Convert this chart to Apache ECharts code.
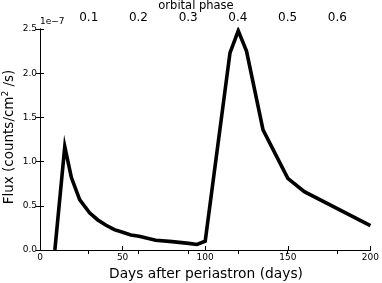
<!DOCTYPE html>
<html>
<head>
<meta charset="utf-8">
<script src="https://cdn.jsdelivr.net/npm/echarts@6/dist/echarts.min.js"></script>
<style>html,body{margin:0;padding:0;background:#fff}#c{width:382px;height:283px}</style>
</head>
<body>
<div id="c"></div>
<script>
const days = [9, 15, 19, 24, 30, 35, 40, 45, 50, 55, 60, 70, 80, 90, 95, 100, 115, 120, 125, 135, 150, 160, 200];
const flux = [0, 1.17, 0.82, 0.57, 0.42, 0.34, 0.28, 0.23, 0.20, 0.17, 0.155, 0.11, 0.095, 0.075, 0.062, 0.10, 2.23, 2.48, 2.25, 1.36, 0.81, 0.66, 0.275];
const xTicks = [0, 50, 100, 150, 200];
const yTicks = [0, 0.5, 1.0, 1.5, 2.0, 2.5];
const phaseLabels = [0.1, 0.2, 0.3, 0.4, 0.5, 0.6];
const period = 301, phaseOffset = 0.6;
const phaseDays = phaseLabels.map(p => period * p - phaseOffset);

const F = 'DejaVu Sans';
const chart = echarts.init(document.getElementById('c'), null, {renderer: 'canvas'});
const axLine = {show: true, lineStyle: {color: '#000', width: 1}};
chart.setOption({
  animation: false,
  grid: {left: 40, right: 10, top: 29, bottom: 33},
  xAxis: [
    {type: 'value', position: 'bottom', min: 0, max: 200, interval: 50,
     axisLine: axLine, splitLine: {show: false},
     axisTick: {inside: true, length: 4, lineStyle: {color: '#000'}},
     axisLabel: {fontFamily: F, fontSize: 9, color: '#000', margin: 3}},
    {type: 'value', position: 'top', min: 0, max: 200,
     axisLine: axLine, splitLine: {show: false},
     axisTick: {inside: true, length: 4, customValues: phaseDays, lineStyle: {color: '#000'}},
     axisLabel: {fontFamily: F, fontSize: 12, color: '#000', margin: 5, customValues: phaseDays,
       formatter: v => ((v + phaseOffset) / period).toFixed(1)}}
  ],
  yAxis: [
    {type: 'value', position: 'left', min: 0, max: 2.5, interval: 0.5,
     axisLine: axLine, splitLine: {show: false},
     axisTick: {inside: true, length: 4, lineStyle: {color: '#000'}},
     axisLabel: {fontFamily: F, fontSize: 9, color: '#000', margin: 3, formatter: v => v.toFixed(1)}},
    {type: 'value', position: 'right', min: 0, max: 2.5, interval: 0.5,
     axisLine: axLine, splitLine: {show: false},
     axisTick: {inside: true, length: 4, lineStyle: {color: '#000'}},
     axisLabel: {show: false}}
  ],
  graphic: [
    {type: 'text', left: 40, top: 17, style: {text: '1e\u22127', fontFamily: F, fontSize: 9, fill: '#000'}},
    {type: 'text', x: 196, y: 6, style: {text: 'orbital phase', fontFamily: F, fontSize: 11.5, fill: '#000', align: 'center', verticalAlign: 'middle'}},
    {type: 'text', x: 206, y: 274, style: {text: 'Days after periastron (days)', fontFamily: F, fontSize: 13.8, fill: '#000', align: 'center', verticalAlign: 'middle'}},
    {type: 'text', x: 9, y: 137, rotation: Math.PI / 2, style: {
      rich: {n: {fontFamily: F, fontSize: 13.5, fill: '#000'}, s: {fontFamily: F, fontSize: 9, fill: '#000', verticalAlign: 'top', padding: [0, 0, 7, 0]}},
      text: '{n|Flux (counts/cm}{s|2}{n| /s)}', align: 'center', verticalAlign: 'middle'}}
  ],
  series: [{
    type: 'line', xAxisIndex: 0, yAxisIndex: 0,
    data: days.map((d, i) => [d, flux[i]]),
    showSymbol: false, symbol: 'none',
    lineStyle: {color: '#000', width: 3.6, join: 'miter'}
  }]
});
</script>
</body>
</html>
